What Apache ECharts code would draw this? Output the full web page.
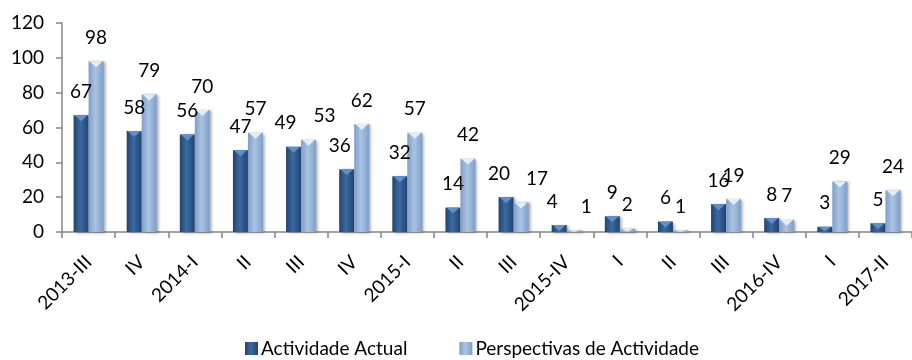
<!DOCTYPE html>
<html>
<head>
<meta charset="utf-8">
<script src="https://cdn.jsdelivr.net/npm/echarts@6/dist/echarts.min.js"></script>
<style>
  html, body { margin: 0; padding: 0; background: #fff; }
  #chart { width: 912px; height: 360px; }
</style>
</head>
<body>
<div id="chart"></div>
<script>
// Quarterly survey: current activity vs. activity outlook
const categories = ['2013-III', 'IV', '2014-I', 'II', 'III', 'IV', '2015-I', 'II', 'III',
                    '2015-IV', 'I', 'II', 'III', '2016-IV', 'I', '2017-II'];
const actividadeActual = [67, 58, 56, 47, 49, 36, 32, 14, 20, 4, 9, 6, 16, 8, 3, 5];
const perspectivas = [98, 79, 70, 57, 53, 62, 57, 42, 17, 1, 2, 1, 19, 7, 29, 24];
const yTicks = { min: 0, max: 120, interval: 20 };

// horizontal label nudges so neighbouring labels do not collide
const nudgeActual = { 4: -8, 5: -7, 8: -7, 9: -7 };
const nudgePersp = { 4: 16, 8: 16, 9: 12 };

const FONT = 'Lato';
const FS = 19;
const BAR_W = 15;

function grad(edge, mid) {
  return new echarts.graphic.LinearGradient(0, 0, 1, 0, [
    { offset: 0, color: edge },
    { offset: 0.45, color: mid },
    { offset: 1, color: edge }
  ]);
}

function barData(values, nudge) {
  return values.map((v, i) => ({
    value: v,
    label: { offset: [nudge[i] || 0, 0] }
  }));
}

function capData(values) {
  return values.map(v => ({
    value: v,
    symbolSize: [BAR_W - 2, Math.min(6, v * 1.5)]
  }));
}

const labelStyle = {
  show: true,
  position: 'top',
  distance: 14,
  fontFamily: FONT,
  fontSize: FS,
  color: '#000'
};

const shadow = {
  shadowColor: 'rgba(0,0,0,0.35)',
  shadowBlur: 3,
  shadowOffsetX: 2,
  shadowOffsetY: 1
};

const chart = echarts.init(document.getElementById('chart'), null, { renderer: 'canvas' });

chart.setOption({
  animation: false,
  backgroundColor: '#ffffff',
  grid: { left: 62, right: -8, top: 23, bottom: 128, containLabel: false },
  legend: {
    bottom: -3,
    left: 240,
    itemGap: 52,
    itemWidth: 13,
    itemHeight: 13,
    icon: 'rect',
    textStyle: { fontFamily: FONT, fontSize: FS, color: '#000', padding: [0, 0, 0, -2] },
    data: ['Actividade Actual', 'Perspectivas de Actividade']
  },
  xAxis: {
    type: 'category',
    data: categories,
    axisLine: { lineStyle: { color: '#868686', width: 1.5 } },
    axisTick: { show: true, length: 6, lineStyle: { color: '#868686', width: 1.5 } },
    axisLabel: {
      rotate: 45,
      margin: 27,
      fontFamily: FONT,
      fontSize: FS,
      color: '#000',
      interval: 0
    }
  },
  yAxis: {
    type: 'value',
    min: yTicks.min,
    max: yTicks.max,
    interval: yTicks.interval,
    splitLine: { show: false },
    axisLine: { show: true, lineStyle: { color: '#868686', width: 1.5 } },
    axisTick: { show: true, length: 6, lineStyle: { color: '#868686', width: 1.5 } },
    axisLabel: { margin: 18, fontFamily: FONT, fontSize: FS, color: '#000' }
  },
  series: [
    {
      name: 'Actividade Actual',
      type: 'bar',
      barWidth: BAR_W,
      barGap: '0%',
      data: barData(actividadeActual, nudgeActual),
      itemStyle: Object.assign({ color: grad('#21446f', '#3a6aa2') }, shadow),
      label: labelStyle
    },
    {
      name: 'Perspectivas de Actividade',
      type: 'bar',
      barWidth: BAR_W,
      barGap: '0%',
      data: barData(perspectivas, nudgePersp),
      itemStyle: Object.assign({ color: grad('#7f9fc8', '#a9c3e3') }, shadow),
      label: labelStyle
    },
    {
      name: 'capActual',
      type: 'pictorialBar',
      barWidth: BAR_W,
      barGap: '0%',
      symbol: 'triangle',
      symbolRotate: 180,
      symbolPosition: 'end',
      symbolOffset: [0, 0],
      data: capData(actividadeActual),
      itemStyle: { color: '#5f90cc' },
      silent: true,
      z: 3
    },
    {
      name: 'capPersp',
      type: 'pictorialBar',
      barWidth: BAR_W,
      barGap: '0%',
      symbol: 'triangle',
      symbolRotate: 180,
      symbolPosition: 'end',
      symbolOffset: [0, 0],
      data: capData(perspectivas),
      itemStyle: { color: '#e2edf8' },
      silent: true,
      z: 3
    }
  ]
});
</script>
</body>
</html>
